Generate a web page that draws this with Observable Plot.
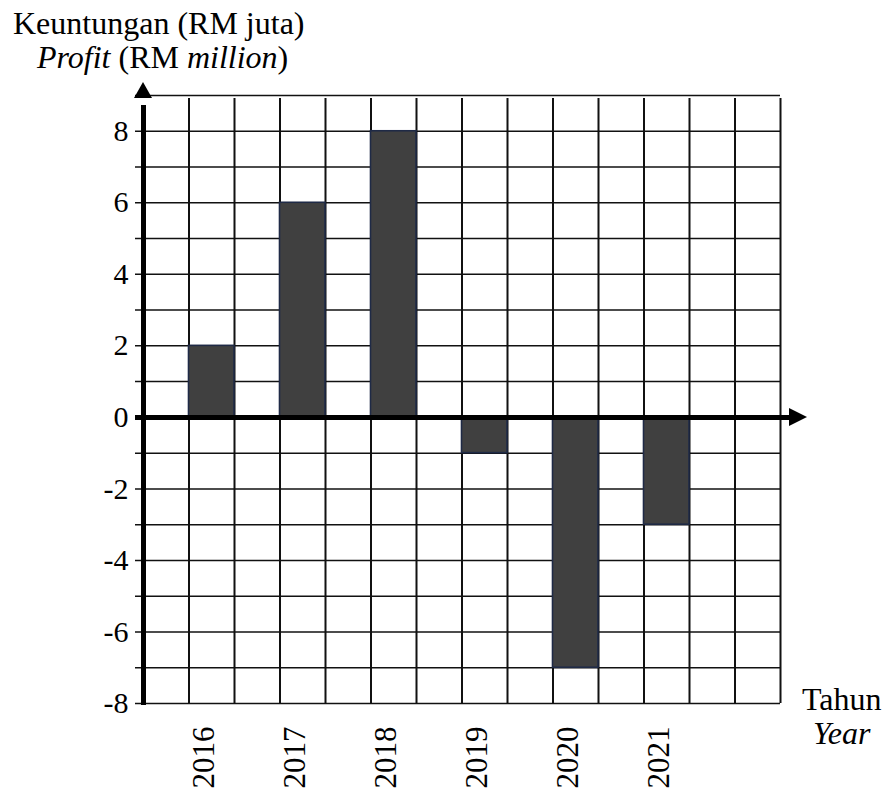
<!DOCTYPE html>
<html>
<head>
<meta charset="utf-8">
<script src="https://cdn.jsdelivr.net/npm/d3@7"></script>
<script src="https://cdn.jsdelivr.net/npm/@observablehq/plot@0.6"></script>
<style>
  html, body { margin: 0; padding: 0; background: #fff; }
  #wrap { position: relative; width: 888px; height: 794px; font-family: 'Liberation Serif', 'Times New Roman', serif; color: #000; }
  .lbl { position: absolute; font-size: 32px; line-height: 1; white-space: nowrap; }
  #chart { position: absolute; left: 0; top: 0; }
</style>
</head>
<body>
<div id="wrap">
  <div id="chart"></div>
  <div class="lbl" style="left:13px; top:7px;">Keuntungan (RM juta)</div>
  <div class="lbl" style="left:37px; top:41px;"><i>Profit</i> (RM <i>million</i>)</div>
  <div class="lbl" style="left:802px; top:683px;">Tahun</div>
  <div class="lbl" style="left:813px; top:717px;"><i>Year</i></div>
</div>
<script>
// Data
const years = ["2016", "2017", "2018", "2019", "2020", "2021"];
const profits = [2, 6, 8, -1, -7, -3];
const yTicks = [-8, -6, -4, -2, 0, 2, 4, 6, 8];
const yGrid = d3.range(-8, 10);      // -8 .. 9
const xGrid = d3.range(1, 15);       // 1 .. 14 grid columns
const xMax = 14, yMin = -8, yMax = 9;

const rows = years.map((y, i) => ({year: y, value: profits[i], x1: 2 * i + 1, x2: 2 * i + 2}));

const serif = "Liberation Serif";

const arrows = (index, scales) => {
  const g = d3.create("svg:g");
  const x0 = scales.x(0), y0 = scales.y(0);
  const yTop = scales.y(yMax), xRight = scales.x(xMax);
  g.append("path")
    .attr("d", `M${x0},${yTop - 13}L${x0 - 9},${yTop + 3}L${x0 + 9},${yTop + 3}Z`)
    .attr("fill", "#000");
  g.append("path")
    .attr("d", `M${xRight + 27},${y0}L${xRight + 9},${y0 - 9}L${xRight + 9},${y0 + 9}Z`)
    .attr("fill", "#000");
  return g.node();
};

const chart = Plot.plot({
  width: 888,
  height: 794,
  marginLeft: 143,
  marginRight: 108,
  marginTop: 95,
  marginBottom: 91,
  style: {background: "#fff", color: "#000", fontFamily: serif},
  x: {domain: [0, xMax], axis: null},
  y: {domain: [yMin, yMax], axis: null},
  marks: [
    Plot.ruleY(yGrid, {x1: 0, x2: xMax, stroke: "#111", strokeWidth: 1.5, insetLeft: -8}),
    Plot.ruleX(xGrid, {y1: yMin, y2: yMax, stroke: "#111", strokeWidth: 2, insetBottom: -3}),
    Plot.rectY(rows, {x1: "x1", x2: "x2", y1: 0, y2: "value", fill: "#404040", stroke: "#1f2a46", strokeWidth: 1.6}),
    Plot.ruleY([0], {x1: 0, x2: xMax, stroke: "#000", strokeWidth: 5, insetLeft: -8, insetRight: -10}),
    Plot.ruleX([0], {y1: yMin, y2: yMax, stroke: "#000", strokeWidth: 5, insetBottom: -10, insetTop: 2}),
    arrows,
    Plot.axisY(yTicks, {anchor: "left", label: null, tickSize: 0, tickPadding: 15, fontSize: 30, fontFamily: serif, tickFormat: d => String(d), fill: "#000"}),
    Plot.text(rows, {x: d => (d.x1 + d.x2) / 2, frameAnchor: "bottom", dy: 23, dx: 2, rotate: -90, textAnchor: "end", text: "year", fontSize: 31, fontFamily: serif, fill: "#000"})
  ]
});
document.getElementById("chart").appendChild(chart);
</script>
</body>
</html>
